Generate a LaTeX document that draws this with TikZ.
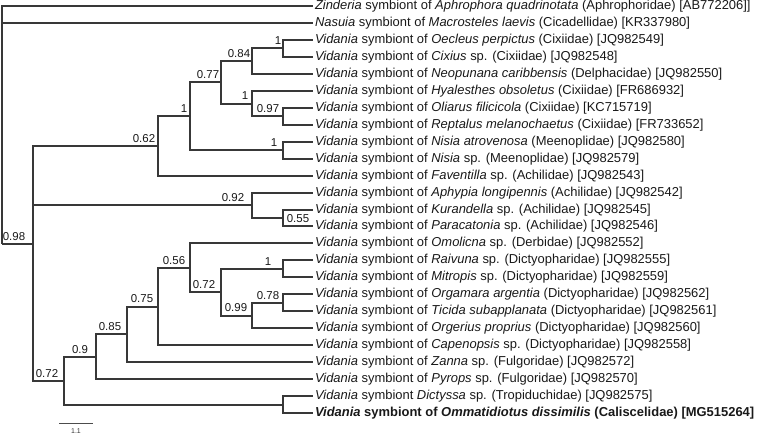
\documentclass[tikz,border=0pt]{standalone}
\usepackage{fontspec}
\setmainfont{Liberation Sans}
\begin{document}
\begin{tikzpicture}[x=1bp,y=-1bp,
  br/.style={draw=black!78, line width=2bp, line join=miter},
  leaf/.style={anchor=west, inner xsep=2bp, inner ysep=0pt, outer sep=0pt,
    text height=9.4pt, text depth=2.6pt, font=\fontsize{13}{15}\selectfont, text=black!90},
  bs/.style={anchor=center, inner sep=0pt, font=\fontsize{11.5}{13}\selectfont, text=black!90}]
\useasboundingbox (0,0) rectangle (761,435);
\fill[white] (0,0) rectangle (761,435);
% leaves
\node[leaf] (l1)  at (313,6)   {\textit{Zinderia} symbiont of \textit{Aphrophora quadrinotata} (Aphrophoridae) [AB772206]]};
\node[leaf] (l2)  at (313,23)  {\textit{Nasuia} symbiont of \textit{Macrosteles laevis} (Cicadellidae) [KR337980]};
\node[leaf] (l3)  at (313,40)  {\textit{Vidania} symbiont of \textit{Oecleus perpictus} (Cixiidae) [JQ982549]};
\node[leaf] (l4)  at (313,57)  {\textit{Vidania} symbiont of \textit{Cixius} sp. (Cixiidae) [JQ982548]};
\node[leaf] (l5)  at (313,74)  {\textit{Vidania} symbiont of \textit{Neopunana caribbensis} (Delphacidae) [JQ982550]};
\node[leaf] (l6)  at (313,91)  {\textit{Vidania} symbiont of \textit{Hyalesthes obsoletus} (Cixiidae) [FR686932]};
\node[leaf] (l7)  at (313,108) {\textit{Vidania} symbiont of \textit{Oliarus filicicola} (Cixiidae) [KC715719]};
\node[leaf] (l8)  at (313,125) {\textit{Vidania} symbiont of \textit{Reptalus melanochaetus} (Cixiidae) [FR733652]};
\node[leaf] (l9)  at (313,142) {\textit{Vidania} symbiont of \textit{Nisia atrovenosa} (Meenoplidae) [JQ982580]};
\node[leaf] (l10) at (313,159) {\textit{Vidania} symbiont of \textit{Nisia} sp. (Meenoplidae) [JQ982579]};
\node[leaf] (l11) at (313,176) {\textit{Vidania} symbiont of \textit{Faventilla} sp. (Achilidae) [JQ982543]};
\node[leaf] (l12) at (313,193) {\textit{Vidania} symbiont of \textit{Aphypia longipennis} (Achilidae) [JQ982542]};
\node[leaf] (l13) at (313,210) {\textit{Vidania} symbiont of \textit{Kurandella} sp. (Achilidae) [JQ982545]};
\node[leaf] (l14) at (313,226) {\textit{Vidania} symbiont of \textit{Paracatonia} sp. (Achilidae) [JQ982546]};
\node[leaf] (l15) at (313,243) {\textit{Vidania} symbiont of \textit{Omolicna} sp. (Derbidae) [JQ982552]};
\node[leaf] (l16) at (313,260) {\textit{Vidania} symbiont of \textit{Raivuna} sp. (Dictyopharidae) [JQ982555]};
\node[leaf] (l17) at (313,277) {\textit{Vidania} symbiont of \textit{Mitropis} sp. (Dictyopharidae) [JQ982559]};
\node[leaf] (l18) at (313,294) {\textit{Vidania} symbiont of \textit{Orgamara argentia} (Dictyopharidae) [JQ982562]};
\node[leaf] (l19) at (313,311) {\textit{Vidania} symbiont of \textit{Ticida subapplanata} (Dictyopharidae) [JQ982561]};
\node[leaf] (l20) at (313,328) {\textit{Vidania} symbiont of \textit{Orgerius proprius} (Dictyopharidae) [JQ982560]};
\node[leaf] (l21) at (313,345) {\textit{Vidania} symbiont of \textit{Capenopsis} sp. (Dictyopharidae) [JQ982558]};
\node[leaf] (l22) at (313,362) {\textit{Vidania} symbiont of \textit{Zanna} sp. (Fulgoridae) [JQ982572]};
\node[leaf] (l23) at (313,379) {\textit{Vidania} symbiont of \textit{Pyrops} sp. (Fulgoridae) [JQ982570]};
\node[leaf] (l24) at (313,396) {\textit{Vidania} symbiont \textit{Dictyssa} sp. (Tropiduchidae) [JQ982575]};
\node[leaf] (l25) at (313,413) {\bfseries\textit{Vidania} symbiont of \textit{Ommatidiotus dissimilis} (Caliscelidae) [MG515264]};
% internal nodes
\coordinate (nOC)  at (283,48);
\coordinate (n084) at (252,61);
\coordinate (n097) at (283,116);
\coordinate (nHy)  at (252,104);
\coordinate (n077) at (221,82);
\coordinate (nNi)  at (283,150);
\coordinate (n1b)  at (190,116);
\coordinate (n062) at (158,146);
\coordinate (n055) at (283,218);
\coordinate (n092) at (252,205);
\coordinate (nRM)  at (283,269);
\coordinate (n078) at (283,303);
\coordinate (n099) at (252,316);
\coordinate (n072i) at (221,292);
\coordinate (n056) at (190,268);
\coordinate (n075) at (158,307);
\coordinate (n085) at (127,334);
\coordinate (n090) at (96,357);
\coordinate (nDO)  at (283,405);
\coordinate (n072o) at (64,381);
\coordinate (n098) at (33,244);
\coordinate (root) at (2,244);
% branches
\draw[br] (root) |- (l1.west);
\draw[br] (root) |- (l2.west);
\draw[br] (root) |- (n098);
\draw[br] (n098) |- (n062);
\draw[br] (n098) |- (n092);
\draw[br] (n098) |- (n072o);
\draw[br] (n062) |- (n1b);
\draw[br] (n062) |- (l11.west);
\draw[br] (n1b) |- (n077);
\draw[br] (n1b) |- (nNi);
\draw[br] (n077) |- (n084);
\draw[br] (n077) |- (nHy);
\draw[br] (n084) |- (nOC);
\draw[br] (n084) |- (l5.west);
\draw[br] (nOC) |- (l3.west);
\draw[br] (nOC) |- (l4.west);
\draw[br] (nHy) |- (l6.west);
\draw[br] (nHy) |- (n097);
\draw[br] (n097) |- (l7.west);
\draw[br] (n097) |- (l8.west);
\draw[br] (nNi) |- (l9.west);
\draw[br] (nNi) |- (l10.west);
\draw[br] (n092) |- (l12.west);
\draw[br] (n092) |- (n055);
\draw[br] (n055) |- (l13.west);
\draw[br] (n055) |- (l14.west);
\draw[br] (n072o) |- (n090);
\draw[br] (n072o) |- (nDO);
\draw[br] (n090) |- (n085);
\draw[br] (n090) |- (l23.west);
\draw[br] (n085) |- (n075);
\draw[br] (n085) |- (l22.west);
\draw[br] (n075) |- (n056);
\draw[br] (n075) |- (l21.west);
\draw[br] (n056) |- (l15.west);
\draw[br] (n056) |- (n072i);
\draw[br] (n072i) |- (nRM);
\draw[br] (n072i) |- (n099);
\draw[br] (nRM) |- (l16.west);
\draw[br] (nRM) |- (l17.west);
\draw[br] (n099) |- (n078);
\draw[br] (n099) |- (l20.west);
\draw[br] (n078) |- (l18.west);
\draw[br] (n078) |- (l19.west);
\draw[br] (nDO) |- (l24.west);
\draw[br] (nDO) |- (l25.west);
% support values
\node[bs] (s098) at (14,236.5) {0.98};
\node[bs] (s062) at (144,138.4) {0.62};
\node[bs] (s1b) at (184,108.7) {1};
\node[bs] (s077) at (208,74.8) {0.77};
\node[bs] (s084) at (239,53.6) {0.84};
\node[bs] (s1h) at (245,96.0) {1};
\node[bs] (s1o) at (278,40.9) {1};
\node[bs] (s097) at (268,108.7) {0.97};
\node[bs] (s1n) at (274,142.7) {1};
\node[bs] (s092) at (233,197.8) {0.92};
\node[bs] (s055) at (298,219.0) {0.55};
\node[bs] (s072o) at (47,373.1) {0.72};
\node[bs] (s090) at (80,349.2) {0.9};
\node[bs] (s085) at (110,326.8) {0.85};
\node[bs] (s075) at (142,299.0) {0.75};
\node[bs] (s056) at (174,260.3) {0.56};
\node[bs] (s072i) at (204,284.7) {0.72};
\node[bs] (s099) at (236,308.0) {0.99};
\node[bs] (s1r) at (268,261.4) {1};
\node[bs] (s078) at (268,295.3) {0.78};
% scale bar
\coordinate (sb1) at (59,423);
\coordinate (sb2) at (93,423);
\draw[black!70, line width=0.8bp] (sb1) -- (sb2);
\node[inner sep=0pt, font=\fontsize{7}{8}\selectfont, text=black!80] (sbl) at (76,431) {1.1};
\end{tikzpicture}
\end{document}
